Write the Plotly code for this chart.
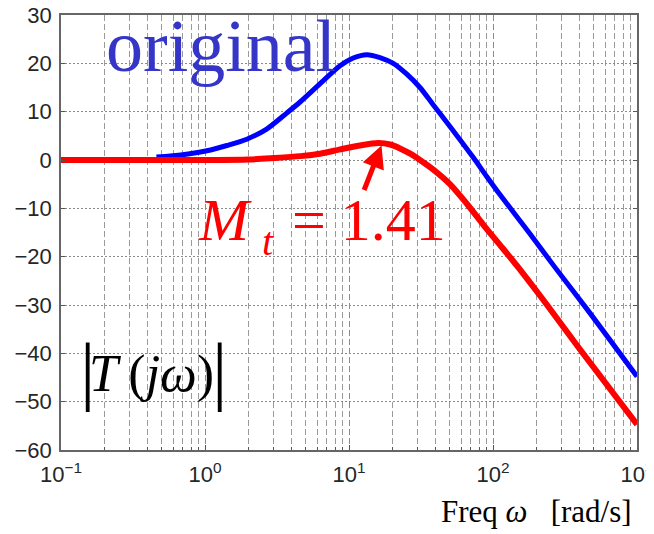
import plotly.graph_objects as go

# ---- data ----
blue_w  = [0.46, 0.70, 1.03, 1.42, 1.95, 2.68, 3.69, 4.57, 6.3, 8.67, 10.7, 13.3, 16.4, 20.3, 25.1, 31.1, 38.5, 47.7, 59, 73, 90.4, 112, 181, 263, 448, 1000]
blue_db = [0.6, 1.1, 1.9, 3.0, 4.3, 6.4, 9.7, 12.0, 15.8, 19.5, 21.1, 21.8, 21.2, 20.0, 17.8, 15.0, 11.4, 7.8, 4.2, 0.5, -3.4, -7.2, -15.3, -21.8, -30.8, -44.8]

red_w  = [0.1, 0.3, 1.0, 2.0, 3.0, 4.6, 6.3, 8.7, 11.9, 16, 19.3, 22.6, 27, 31.1, 38.5, 50.2, 65.6, 85.7, 112, 146, 176, 236, 400, 1000]
red_db = [0.0, 0.0, 0.0, 0.1, 0.4, 0.8, 1.3, 2.2, 3.0, 3.5, 3.2, 2.4, 1.2, 0.0, -2.0, -5.0, -9.0, -13.4, -17.6, -21.8, -24.9, -29.9, -39.1, -54.7]

x_tickvals = [0.1, 1, 10, 100, 1000]
x_ticktext = ["10<sup>\u22121</sup>", "10<sup>0</sup>", "10<sup>1</sup>", "10<sup>2</sup>", "10<sup>3</sup>"]
y_tickvals = [30, 20, 10, 0, -10, -20, -30, -40, -50, -60]

fig = go.Figure()
fig.add_trace(go.Scatter(x=blue_w, y=blue_db, mode="lines",
                         line=dict(color="#0000ff", width=5, shape="spline", smoothing=0.8), hoverinfo="skip"))
fig.add_trace(go.Scatter(x=red_w, y=red_db, mode="lines",
                         line=dict(color="#ff0000", width=6, shape="spline", smoothing=0.8), hoverinfo="skip"))

tickfont = dict(family="Liberation Sans, Arial, sans-serif", size=22, color="#262626")

# the page body has an 8px margin, so the figure is 8px smaller on each side
fig.update_layout(
    width=646, height=526,
    margin=dict(l=53, r=17, t=6.5, b=83.5, autoexpand=False),
    paper_bgcolor="white", plot_bgcolor="white",
    showlegend=False,
    xaxis=dict(
        type="log", range=[-1, 3], automargin=False,
        tickvals=x_tickvals, ticktext=x_ticktext,
        tickfont=tickfont, ticklabeloverflow="allow",
        showgrid=True, gridcolor="#8c8c8c", gridwidth=1, griddash="6px,3px",
        ticks="inside", ticklen=5, tickcolor="#555",
        minor=dict(dtick="D1", showgrid=True, gridcolor="#9a9a9a", gridwidth=1, griddash="6px,3px",
                   ticks="inside", ticklen=3, tickcolor="#555"),
        showline=True, linecolor="#666", linewidth=1.5, mirror=True,
        ticklabelstandoff=4,
        zeroline=False,
    ),
    yaxis=dict(
        range=[-60, 30], automargin=False,
        tickvals=y_tickvals,
        tickfont=tickfont, ticklabeloverflow="allow",
        showgrid=True, gridcolor="#8c8c8c", gridwidth=1, griddash="2px,2px",
        ticks="inside", ticklen=4, tickcolor="#555",
        showline=True, linecolor="#666", linewidth=1.5, mirror="ticks",
        ticklabelstandoff=3,
        zeroline=False,
    ),
)

serif = "Liberation Serif, Times New Roman, serif"

# arrow pointing to the resonant peak
fig.add_annotation(x=1.226, y=3.0, xref="x", yref="y", text="", showarrow=True,
                   ax=-18, ay=46, arrowhead=2, arrowsize=0.9, arrowwidth=5, arrowcolor="#ff0000")

ann = [
    dict(text="original", x=0.074, y=0.928, xanchor="left", yanchor="middle",
         font=dict(family=serif, size=74, color="#3535c8")),
    dict(text="<i>M</i>", x=0.235, y=0.529, xanchor="left", yanchor="middle",
         font=dict(family=serif, size=60, color="#ff0000")),
    dict(text="<i>t</i>", x=0.3455, y=0.479, xanchor="left", yanchor="middle",
         font=dict(family=serif, size=40, color="#ff0000")),
    dict(text="= 1.41", x=0.3976, y=0.529, xanchor="left", yanchor="middle",
         font=dict(family=serif, size=60, color="#ff0000")),
    dict(text="<i>T</i>\u2009(<i>j\u03c9</i>)", x=0.046, y=0.175, xanchor="left", yanchor="middle",
         font=dict(family=serif, size=52, color="#000000")),
    dict(text="|", x=0.046, y=0.1837, xanchor="center", yanchor="middle",
         font=dict(family=serif, size=77, color="#000000")),
    dict(text="|", x=0.276, y=0.1837, xanchor="center", yanchor="middle",
         font=dict(family=serif, size=77, color="#000000")),
    dict(text="Freq <i>\u03c9</i>   [rad/s]", x=1.0, y=-0.141, xanchor="right", yanchor="middle", xshift=-3,
         font=dict(family=serif, size=31, color="#000000")),
]
for a in ann:
    fig.add_annotation(xref="paper", yref="paper", showarrow=False, **a)

fig.write_html("out.html")
